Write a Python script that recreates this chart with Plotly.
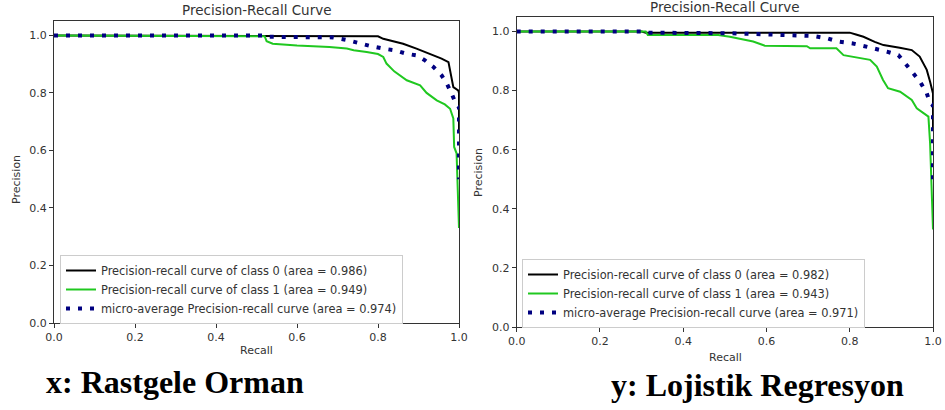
import plotly.graph_objects as go

# ---------------- data ----------------
# Left panel: Random Forest
rf_r0 = [0, 0.53, 0.80, 0.813, 0.838, 0.862, 0.895, 0.928, 0.957, 0.974, 0.982, 0.986, 0.998, 1.0, 1.0]
rf_p0 = [1.0, 0.997, 0.997, 0.988, 0.980, 0.971, 0.954, 0.936, 0.919, 0.907, 0.844, 0.82, 0.809, 0.80, 0.67]

rf_r1 = [0, 0.52, 0.525, 0.54, 0.60, 0.68, 0.723, 0.74, 0.772, 0.80, 0.813, 0.821, 0.84, 0.871,
         0.904, 0.92, 0.945, 0.965, 0.978, 0.986, 0.988, 0.994, 1.0]
rf_p1 = [1.0, 0.997, 0.98, 0.971, 0.965, 0.96, 0.954, 0.948, 0.942, 0.935, 0.925, 0.902, 0.875, 0.844,
         0.826, 0.80, 0.774, 0.76, 0.745, 0.711, 0.612, 0.59, 0.33]

rf_rm = [0, 0.52, 0.53, 0.69, 0.726, 0.756, 0.784, 0.813, 0.842, 0.871, 0.896, 0.916, 0.937, 0.957,
         0.97, 0.982, 0.994, 1.0, 1.0]
rf_pm = [1.0, 1.0, 0.995, 0.993, 0.983, 0.971, 0.962, 0.954, 0.948, 0.936, 0.93, 0.913, 0.89, 0.861,
         0.832, 0.797, 0.757, 0.75, 0.5]

# Right panel: Logistic Regression
lr_r0 = [0, 0.30, 0.31, 0.80, 0.815, 0.833, 0.86, 0.881, 0.92, 0.949, 0.968, 0.985, 0.993, 0.997, 1.0, 1.0]
lr_p0 = [1.0, 1.0, 0.996, 0.996, 0.99, 0.982, 0.965, 0.954, 0.945, 0.937, 0.915, 0.87, 0.83, 0.802, 0.79, 0.67]

lr_r1 = [0, 0.31, 0.315, 0.484, 0.512, 0.528, 0.568, 0.596, 0.697, 0.705, 0.768, 0.785, 0.849, 0.865,
         0.88, 0.892, 0.921, 0.949, 0.961, 0.989, 0.993, 1.0]
lr_p1 = [1.0, 1.0, 0.988, 0.988, 0.982, 0.977, 0.966, 0.952, 0.95, 0.943, 0.943, 0.92, 0.904, 0.881,
         0.836, 0.808, 0.796, 0.768, 0.74, 0.712, 0.622, 0.33]

lr_rm = [0, 0.30, 0.31, 0.51, 0.712, 0.745, 0.772, 0.805, 0.833, 0.861, 0.889, 0.917, 0.933, 0.953,
         0.969, 0.985, 0.993, 1.0, 1.0]
lr_pm = [1.0, 1.0, 0.996, 0.994, 0.985, 0.977, 0.966, 0.96, 0.951, 0.943, 0.932, 0.92, 0.892, 0.859,
         0.83, 0.791, 0.757, 0.75, 0.5]

rf_areas = ["0.986", "0.949", "0.974"]
lr_areas = ["0.982", "0.943", "0.971"]

tick_vals = [0.0, 0.2, 0.4, 0.6, 0.8, 1.0]
tick_text = ["0.0", "0.2", "0.4", "0.6", "0.8", "1.0"]

captions = ["x: Rastgele Orman", "y: Lojistik Regresyon"]
panel_title = "Precision-Recall Curve"
x_label = "Recall"
y_label = "Precision"

# ---------------- styling ----------------
W, H = 945, 410
BLACK = "#000000"
GREEN = "#20c820"
NAVY = "#000080"
AX = "#333333"
FONT = "DejaVu Sans"

fig = go.Figure()

def add_panel(r0, p0, r1, p1, rm, pm, areas, xa, ya, legend):
    fig.add_trace(go.Scatter(x=r0, y=p0, mode="lines", line=dict(color=BLACK, width=2),
                             name=f"Precision-recall curve of class 0 (area = {areas[0]})",
                             xaxis=xa, yaxis=ya, legend=legend))
    fig.add_trace(go.Scatter(x=r1, y=p1, mode="lines", line=dict(color=GREEN, width=2),
                             name=f"Precision-recall curve of class 1 (area = {areas[1]})",
                             xaxis=xa, yaxis=ya, legend=legend))
    fig.add_trace(go.Scatter(x=rm, y=pm, mode="lines",
                             line=dict(color=NAVY, width=4, dash="4px,8px"),
                             name=f"micro-average Precision-recall curve (area = {areas[2]})",
                             xaxis=xa, yaxis=ya, legend=legend))

add_panel(rf_r0, rf_p0, rf_r1, rf_p1, rf_rm, rf_pm, rf_areas, "x", "y", "legend")
add_panel(lr_r0, lr_p0, lr_r1, lr_p1, lr_rm, lr_pm, lr_areas, "x2", "y2", "legend2")

def px_x(v):
    return v / W

def px_y(v):
    return (H - v) / H

axis_common = dict(showline=True, mirror=True, linecolor=AX, linewidth=1, showgrid=False,
                   zeroline=False, ticks="outside", ticklen=4, tickcolor=AX, automargin=False,
                   tickfont=dict(family=FONT, size=11, color=AX),
                   tickvals=tick_vals, ticktext=tick_text)

legend_common = dict(xanchor="left", yanchor="top",
                     bgcolor="rgba(255,255,255,0.85)", bordercolor="#cccccc", borderwidth=1,
                     font=dict(family=FONT, size=11.4, color=AX), itemwidth=30, tracegroupgap=0)

fig.update_layout(
    width=W, height=H, margin=dict(l=0, r=0, t=0, b=0, autoexpand=False),
    paper_bgcolor="white", plot_bgcolor="white",
    xaxis=dict(domain=[px_x(54), px_x(459)], range=[0, 1], anchor="y", **axis_common),
    yaxis=dict(domain=[px_y(323), px_y(21)], range=[0, 1.05], anchor="x", **axis_common),
    xaxis2=dict(domain=[px_x(516.7), px_x(933)], range=[0, 1], anchor="y2", **axis_common),
    yaxis2=dict(domain=[px_y(327), px_y(16.7)], range=[0, 1.05], anchor="x2", **axis_common),
    legend=dict(x=px_x(60), y=px_y(255), **legend_common),
    legend2=dict(x=px_x(522), y=px_y(259), **legend_common),
    showlegend=True,
)

def note(text, x, y, size, family=FONT, color=AX, angle=0):
    fig.add_annotation(text=text, x=px_x(x), y=px_y(y), xref="paper", yref="paper",
                       showarrow=False, xanchor="center", yanchor="middle", textangle=angle,
                       font=dict(family=family, size=size, color=color))

# panel titles
note(panel_title, 257, 10, 13.5)
note(panel_title, 725, 7, 13.5)

# axis labels
note(x_label, 256, 350, 11)
note(x_label, 725, 357, 11)
note(y_label, 17, 180, 11, angle=-90)
note(y_label, 478, 173, 11, angle=-90)

# captions
note(f"<b>{captions[0]}</b>", 174.5, 382, 32, family="Liberation Serif", color="black")
note(f"<b>{captions[1]}</b>", 757.5, 385, 32, family="Liberation Serif", color="black")

fig.write_html("out.html")
